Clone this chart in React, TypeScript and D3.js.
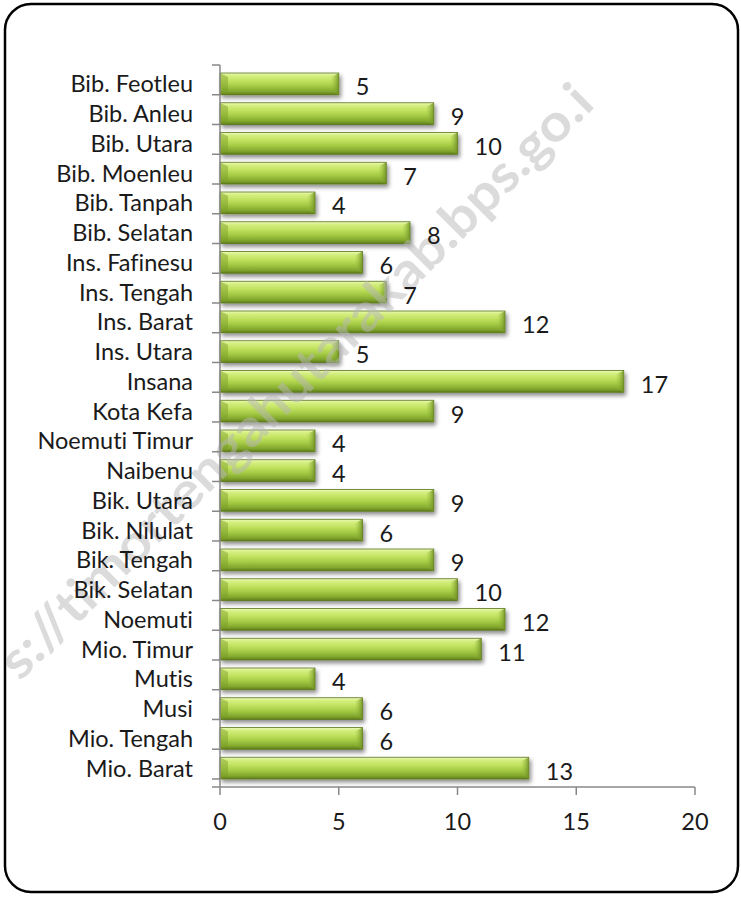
import React from "react";
import * as d3 from "d3";

const categories = [
  "Bib. Feotleu", "Bib. Anleu", "Bib. Utara", "Bib. Moenleu", "Bib. Tanpah",
  "Bib. Selatan", "Ins. Fafinesu", "Ins. Tengah", "Ins. Barat", "Ins. Utara",
  "Insana", "Kota Kefa", "Noemuti Timur", "Naibenu", "Bik. Utara",
  "Bik. Nilulat", "Bik. Tengah", "Bik. Selatan", "Noemuti", "Mio. Timur",
  "Mutis", "Musi", "Mio. Tengah", "Mio. Barat",
];
const values = [5, 9, 10, 7, 4, 8, 6, 7, 12, 5, 17, 9, 4, 4, 9, 6, 9, 10, 12, 11, 4, 6, 6, 13];
const xTicks = [0, 5, 10, 15, 20];
const watermark = "s://timortengahutarakab.bps.go.i";

const W = 741;
const H = 897;
const FONT = "Lato, 'Noto Sans', sans-serif";

export default function App() {
  const x = d3.scaleLinear().domain([0, 20]).range([220, 695]);
  const y = d3.scaleBand<string>().domain(categories).range([65, 787]).padding(0.27);
  const step = y.step();
  const bw = y.bandwidth();
  const boundaries = d3.range(categories.length + 1).map((i) => 65 + i * step);
  const textStyle = { fontVariantLigatures: "none" as const };

  return (
    <svg width={W} height={H} style={{ position: "absolute", left: 0, top: 0 }}>
      <defs>
        <linearGradient id="barGrad" x1="0" y1="0" x2="0" y2="1">
          <stop offset="0" stopColor="#eef9c0" />
          <stop offset="0.12" stopColor="#d6f082" />
          <stop offset="0.35" stopColor="#c2e260" />
          <stop offset="0.6" stopColor="#a5cb45" />
          <stop offset="0.85" stopColor="#82a72d" />
          <stop offset="1" stopColor="#5f7d1d" />
        </linearGradient>
        <linearGradient id="capGrad" x1="0" y1="0" x2="1" y2="0">
          <stop offset="0" stopColor="#9cc23e" stopOpacity="0" />
          <stop offset="1" stopColor="#6e8f25" stopOpacity="0.9" />
        </linearGradient>
        <filter id="shadow" x="-5%" y="-30%" width="115%" height="180%">
          <feGaussianBlur in="SourceAlpha" stdDeviation="2" />
          <feOffset dx="2" dy="3" result="b" />
          <feComponentTransfer>
            <feFuncA type="linear" slope="0.45" />
          </feComponentTransfer>
          <feMerge>
            <feMergeNode />
            <feMergeNode in="SourceGraphic" />
          </feMerge>
        </filter>
      </defs>
      <rect x={0} y={0} width={W} height={H} fill="#ffffff" />
      <rect x={5} y={4} width={733} height={888} rx={26} ry={26} fill="#ffffff" stroke="#000" strokeWidth={2.5} />

      {/* bars */}
      {categories.map((c, i) => {
        const y0 = y(c)!;
        const x0 = x(0);
        const x1 = x(values[i]);
        const cap = 8;
        return (
          <g key={c} filter="url(#shadow)">
            <rect x={x0} y={y0} width={x1 - x0} height={bw} fill="url(#barGrad)" stroke="#5a7619" strokeWidth={0.8} />
            <polygon
              points={`${x1 - cap},${y0 + 4} ${x1},${y0} ${x1},${y0 + bw} ${x1 - cap},${y0 + bw - 4}`}
              fill="url(#capGrad)"
            />
            <polygon
              points={`${x0},${y0} ${x0 + cap},${y0 + 4} ${x0 + cap},${y0 + bw - 4} ${x0},${y0 + bw}`}
              fill="#7a9c28"
              opacity={0.45}
            />
          </g>
        );
      })}

      {/* watermark */}
      <text
        x={20}
        y={682}
        transform="rotate(-45 20 682)"
        fontFamily={FONT}
        fontWeight={700}
        fontSize={52}
        textLength={815}
        lengthAdjust="spacingAndGlyphs"
        fill="#b8b8b8"
        opacity={0.5}
        style={textStyle}
      >
        {watermark}
      </text>

      {/* y axis */}
      <line x1={220} x2={220} y1={65} y2={787} stroke="#888" strokeWidth={1.5} />
      {boundaries.map((b, i) => (
        <line key={i} x1={212} x2={220} y1={b} y2={b} stroke="#888" strokeWidth={1.5} />
      ))}
      {categories.map((c) => (
        <text key={c} x={193} y={y(c)! + bw / 2} dy="0.36em" textAnchor="end" fontFamily={FONT} fontSize={23.5} fill="#1a1a1a" style={textStyle}>
          {c}
        </text>
      ))}

      {/* x axis */}
      <line x1={212} x2={695} y1={787} y2={787} stroke="#888" strokeWidth={1.5} />
      {xTicks.map((t) => (
        <g key={t}>
          <line x1={x(t)} x2={x(t)} y1={787} y2={795} stroke="#888" strokeWidth={1.5} />
          <text x={x(t)} y={830} textAnchor="middle" fontFamily={FONT} fontSize={23.5} fill="#1a1a1a">
            {t}
          </text>
        </g>
      ))}

      {/* value labels */}
      {categories.map((c, i) => (
        <text key={c} x={x(values[i]) + 17} y={y(c)! + bw / 2 + 3} dy="0.36em" fontFamily={FONT} fontSize={23.5} fill="#1a1a1a">
          {values[i]}
        </text>
      ))}
    </svg>
  );
}
